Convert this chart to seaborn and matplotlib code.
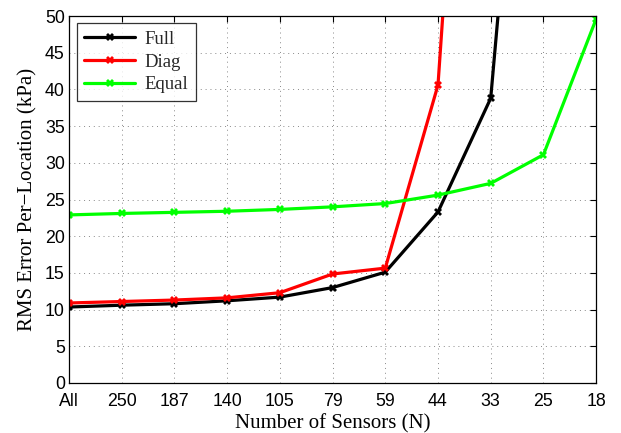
import matplotlib
matplotlib.use("Agg")
import matplotlib.pyplot as plt
import seaborn as sns
import pandas as pd
import numpy as np

sns.set_theme(style="white")

# categories along x (number of sensors)
sensors = ["All", "250", "187", "140", "105", "79", "59", "44", "33", "25", "18"]

# RMS error per location (kPa); points above 50 are clipped by the axis
full = [10.35, 10.6, 10.8, 11.2, 11.7, 13.0, 15.1, 23.3, 38.8, 120.0, np.nan]
diag = [10.9, 11.1, 11.3, 11.6, 12.3, 14.85, 15.65, 40.6, 145.0, np.nan, np.nan]
equal = [22.9, 23.1, 23.25, 23.4, 23.65, 24.0, 24.45, 25.6, 27.2, 31.1, 49.6]

series = {"Full": full, "Diag": diag, "Equal": equal}
colors = {"Full": "black", "Diag": "#ff0000", "Equal": "#00ff00"}

rows = []
for name, vals in series.items():
    for i, v in enumerate(vals):
        rows.append({"pos": i, "val": v, "method": name})
df = pd.DataFrame(rows).dropna()

fig = plt.figure(figsize=(6.21, 4.33), dpi=100)
ax = fig.add_axes([0.111, 0.1155, 0.849, 0.8475])

sns.lineplot(data=df, x="pos", y="val", hue="method", palette=colors,
             hue_order=["Full", "Diag", "Equal"], marker="X", markersize=6,
             markeredgewidth=0, linewidth=2.3, sort=False, ax=ax)

ax.set_xlim(0, len(sensors) - 1)
ax.set_ylim(0, 50)
ax.set_xticks(range(len(sensors)))
ax.set_xticklabels(sensors)
ax.set_yticks(range(0, 51, 5))
ax.tick_params(direction="in", top=True, right=True, length=4, width=0.8,
               labelsize=12.8, colors="black")
ax.tick_params(axis="x", pad=7)
ax.tick_params(axis="y", pad=3)
for lbl in ax.get_xticklabels() + ax.get_yticklabels():
    lbl.set_family("Liberation Sans")

ax.grid(True, linestyle=(0, (1, 4)), color="#888888", linewidth=0.7)
for sp in ax.spines.values():
    sp.set_color("black")
    sp.set_linewidth(0.9)

ax.set_xlabel("Number of Sensors (N)", family="Liberation Serif", fontsize=15,
              color="black", labelpad=3)
ax.set_ylabel("RMS Error Per\u2212Location (kPa)", family="Liberation Serif",
              fontsize=15, color="black")
ax.yaxis.set_label_coords(-0.06, 0.5)

leg = ax.legend(loc="upper left", bbox_to_anchor=(0.015, 0.98), frameon=True,
                borderaxespad=0, fancybox=False,
                prop={"family": "Liberation Serif", "size": 13.5},
                handlelength=2.7, borderpad=0.4, labelspacing=0.3,
                handletextpad=0.5)
leg.get_frame().set_edgecolor("black")
leg.get_frame().set_linewidth(0.9)

fig.savefig("out.png", dpi=100)
